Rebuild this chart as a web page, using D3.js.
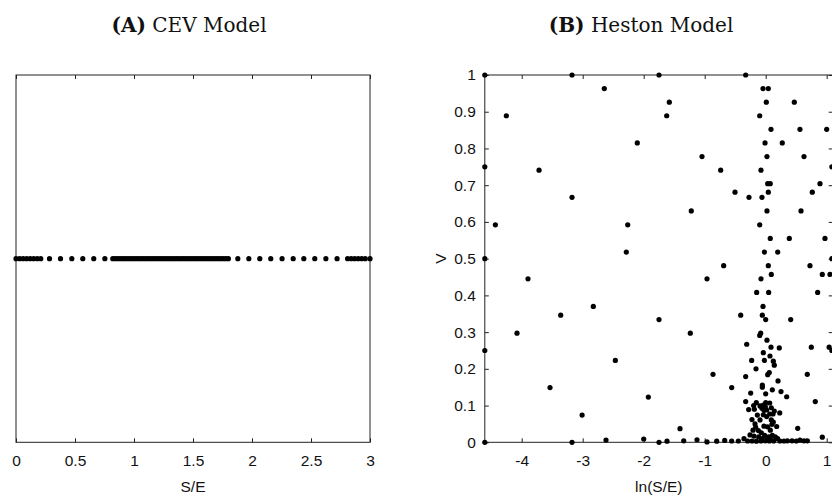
<!DOCTYPE html>
<html>
<head>
<meta charset="utf-8">
<script src="https://cdn.jsdelivr.net/npm/d3@7"></script>
<style>
  html, body { margin: 0; padding: 0; background: #fff; }
  svg { display: block; }
  .tick text { font-family: "Liberation Sans", Arial, sans-serif; font-size: 15.5px; fill: #111; }
  .axis-label { font-family: "Liberation Sans", Arial, sans-serif; font-size: 15.5px; fill: #111; }
  .title { font-family: "DejaVu Serif", serif; font-size: 20px; fill: #111; }
</style>
</head>
<body>
<svg id="chart" width="832" height="503"></svg>
<script>
// ---- Panel A: CEV model grid nodes in S/E (single row) ----
const cevSE = [
  0.00, 0.03, 0.06, 0.09, 0.12, 0.15, 0.18, 0.21,
  0.284, 0.377, 0.473, 0.566, 0.659, 0.753,
  0.82, 0.84, 0.86, 0.88, 0.90, 0.92, 0.94, 0.96, 0.98, 1.00,
  1.02, 1.04, 1.06, 1.08, 1.10, 1.12, 1.14, 1.16, 1.18, 1.20,
  1.22, 1.24, 1.26, 1.28, 1.30, 1.32, 1.34, 1.36, 1.38, 1.40,
  1.42, 1.44, 1.46, 1.48, 1.50, 1.52, 1.54, 1.56, 1.58, 1.60,
  1.62, 1.64, 1.66, 1.68, 1.70, 1.72, 1.74, 1.76, 1.78, 1.80,
  1.880, 1.973, 2.066, 2.159, 2.255, 2.349, 2.439, 2.532, 2.626, 2.721,
  2.81, 2.84, 2.87, 2.90, 2.93, 2.96, 3.00
];
const cevLevel = 0.5;
const cevTicks = [0, 0.5, 1, 1.5, 2, 2.5, 3];
const cevTickLabels = ["0", "0.5", "1", "1.5", "2", "2.5", "3"];

// ---- Panel B: Heston model nodes, ln(S/E) and variance V ----
const hestonLnSE = [
  -4.605, -3.175, -1.749, -0.328,
  -2.646, -0.044, 0.043,
  -1.58, 0.01, 0.469,
  -4.252, -1.623, -0.098,
  0.087, 0.562, 1.0,
  -2.105, -0.011, 0.272,
  -1.044, 0.021, 0.628,
  -4.605, 1.085,
  -3.716, -0.738, -0.077,
  0.033, 0.075, 0.89,
  -0.503, 0.043, 0.764,
  -3.175, -0.274, -0.061,
  -1.22, 0.021, 0.579,
  -4.432, -2.262, -0.098,
  0.075, 0.387, 0.972,
  -2.285, -0.022, 0.197,
  -4.605, 1.085,
  -0.689, 0.043, 0.726,
  -3.897, -0.962, -0.077,
  0.092, 0.928, 1.054,
  -0.148, 0.049, 0.852,
  -2.826, -0.044,
  -3.361, -0.41, -0.055,
  -1.749, 0.0, 0.41,
  -4.077, -1.236, -0.082, -0.098,
  -0.311, 0.021, 0.087, 0.223, 0.748, 1.04,
  -4.605, 1.085,
  -2.465, -0.23, -0.022, 0.07, 0.125, -0.039, 0.141,
  -0.159, 0.059, 0.033, -0.328, -0.864, 0.682,
  -3.536, -0.557, -0.055, -0.055, 0.202, 0.109,
  -0.246, 0.251, 0.0, -1.924, 0.344,
  -0.328, 0.813, -0.154, -0.197, 0.0, 0.066,
  -0.093, -0.039, -0.006, -0.061, -0.028, 0.016, 0.092, 0.141, 0.066, 0.12,
  -0.279, -0.186, 0.23, -0.225, 0.092, 0.125, 0.103, -0.175, -0.164, -0.028,
  0.032, 0.076, -0.208, -0.12, -0.071, -0.017, 0.049, 0.109, -0.192, -0.115,
  -0.061, 0.016, 0.076, 0.158, -0.093, 0.016, -0.039, -0.137, 0.18, -0.257,
  -3.01, -1.405, 0.525, 0.928,
  -4.605, -3.175, -2.618, -2.0, -1.749, -1.618, -1.344, -1.126, -0.962, -0.803,
  -0.672, -0.558, -0.449, -0.356, -0.296, -0.225, -0.153, -0.077, -0.006, 0.059,
  0.13, 0.196, 0.234, 0.3, 0.355, 0.431, 0.502, 0.562, 0.628, 0.683
];
const hestonV = [
  1.0, 1.0, 1.0, 1.0,
  0.963, 0.963, 0.963,
  0.926, 0.926, 0.926,
  0.889, 0.889, 0.889,
  0.852, 0.852, 0.852,
  0.815, 0.815, 0.815,
  0.778, 0.778, 0.778,
  0.75, 0.75,
  0.741, 0.741, 0.741,
  0.704, 0.704, 0.704,
  0.681, 0.681, 0.681,
  0.667, 0.667, 0.667,
  0.63, 0.63, 0.63,
  0.592, 0.592, 0.592,
  0.555, 0.555, 0.555,
  0.518, 0.518, 0.518,
  0.5, 0.5,
  0.481, 0.481, 0.481,
  0.445, 0.445, 0.445,
  0.457, 0.457, 0.457,
  0.408, 0.408, 0.408,
  0.370, 0.370,
  0.346, 0.346, 0.346,
  0.334, 0.334, 0.334,
  0.297, 0.297, 0.297, 0.291,
  0.267, 0.278, 0.259, 0.257, 0.259, 0.259,
  0.25, 0.25,
  0.223, 0.223, 0.223, 0.235, 0.221, 0.244, 0.21,
  0.2, 0.19, 0.184, 0.179, 0.185, 0.185,
  0.149, 0.149, 0.156, 0.150, 0.167, 0.143,
  0.134, 0.138, 0.132, 0.123, 0.124,
  0.111, 0.111, 0.108, 0.1, 0.108, 0.107,
  0.099, 0.101, 0.097, 0.093, 0.087, 0.088, 0.094, 0.085, 0.077, 0.077,
  0.089, 0.09, 0.08, 0.062, 0.061, 0.055, 0.049, 0.05, 0.041, 0.044,
  0.042, 0.033, 0.033, 0.032, 0.026, 0.019, 0.015, 0.019, 0.017, 0.015,
  0.010, 0.008, 0.009, 0.015, 0.061, 0.070, 0.075, 0.074, 0.043, 0.02,
  0.074, 0.037, 0.038, 0.014,
  0.0, 0.0, 0.006, 0.009, 0.0, 0.003, 0.004, 0.007, 0.001, 0.003,
  0.005, 0.0035, 0.0035, 0.01, 0.0035, 0.0035, 0.003, 0.0035, 0.004, 0.0035,
  0.0035, 0.01, 0.0035, 0.0035, 0.004, 0.004, 0.0035, 0.006, 0.004, 0.004
];
const hestonXTicks = [-4, -3, -2, -1, 0, 1];
const hestonXTickLabels = ["-4", "-3", "-2", "-1", "0", "1"];
const hestonYTicks = [0, 0.1, 0.2, 0.3, 0.4, 0.5, 0.6, 0.7, 0.8, 0.9, 1];
const hestonYTickLabels = ["0", "0.1", "0.2", "0.3", "0.4", "0.5", "0.6", "0.7", "0.8", "0.9", "1"];

const svg = d3.select("#chart");
const axisColor = "#222";
const dotR = 2.6;
const tickLen = 4;

// shared vertical extent of both axes boxes
const yTop = 75, yBottom = 442.3;

// ---------- Panel A ----------
const xA = d3.scaleLinear().domain([0, 3]).range([16, 370]);
const yA = d3.scaleLinear().domain([0, 1]).range([yBottom, yTop]);

const gA = svg.append("g");
gA.append("rect")
  .attr("x", xA(0)).attr("y", yTop)
  .attr("width", xA(3) - xA(0)).attr("height", yBottom - yTop)
  .attr("fill", "none").attr("stroke", axisColor).attr("stroke-width", 1);

const axA = gA.append("g")
  .attr("transform", `translate(0,${yBottom})`)
  .style("color", axisColor)
  .call(d3.axisBottom(xA).tickValues(cevTicks)
    .tickFormat((d, i) => cevTickLabels[i])
    .tickSizeInner(-tickLen).tickSizeOuter(0).tickPadding(13));
axA.select(".domain").remove();

const axAtop = gA.append("g")
  .attr("transform", `translate(0,${yTop})`)
  .style("color", axisColor)
  .call(d3.axisTop(xA).tickValues(cevTicks).tickFormat("")
    .tickSizeInner(-tickLen).tickSizeOuter(0));
axAtop.select(".domain").remove();

gA.append("g").selectAll("circle")
  .data(cevSE)
  .join("circle")
  .attr("cx", d => xA(d))
  .attr("cy", yA(cevLevel))
  .attr("r", dotR)
  .attr("fill", "#000");

gA.append("text").attr("class", "axis-label")
  .attr("x", (xA(0) + xA(3)) / 2).attr("y", 492)
  .attr("text-anchor", "middle").text("S/E");

const tA = svg.append("text").attr("class", "title")
  .attr("x", 189).attr("y", 32).attr("text-anchor", "middle");
tA.append("tspan").attr("font-weight", "bold").text("(A)");
tA.append("tspan").text(" CEV Model");

// ---------- Panel B ----------
const xB = d3.scaleLinear().domain([Math.log(0.01), Math.log(3)]).range([484.8, 832.7]);
const yB = d3.scaleLinear().domain([0, 1]).range([yBottom, yTop]);

const gB = svg.append("g");
gB.append("rect")
  .attr("x", xB.range()[0]).attr("y", yTop)
  .attr("width", xB.range()[1] - xB.range()[0]).attr("height", yBottom - yTop)
  .attr("fill", "none").attr("stroke", axisColor).attr("stroke-width", 1);

const axBx = gB.append("g")
  .attr("transform", `translate(0,${yBottom})`)
  .style("color", axisColor)
  .call(d3.axisBottom(xB).tickValues(hestonXTicks)
    .tickFormat((d, i) => hestonXTickLabels[i])
    .tickSizeInner(-tickLen).tickSizeOuter(0).tickPadding(13));
axBx.select(".domain").remove();

const axBtop = gB.append("g")
  .attr("transform", `translate(0,${yTop})`)
  .style("color", axisColor)
  .call(d3.axisTop(xB).tickValues(hestonXTicks).tickFormat("")
    .tickSizeInner(-tickLen).tickSizeOuter(0));
axBtop.select(".domain").remove();

const axBy = gB.append("g")
  .attr("transform", `translate(${xB.range()[0]},0)`)
  .style("color", axisColor)
  .call(d3.axisLeft(yB).tickValues(hestonYTicks)
    .tickFormat((d, i) => hestonYTickLabels[i])
    .tickSizeInner(-tickLen).tickSizeOuter(0).tickPadding(9));
axBy.select(".domain").remove();

const axByR = gB.append("g")
  .attr("transform", `translate(${xB.range()[1]},0)`)
  .style("color", axisColor)
  .call(d3.axisRight(yB).tickValues(hestonYTicks).tickFormat("")
    .tickSizeInner(-tickLen).tickSizeOuter(0));
axByR.select(".domain").remove();

gB.append("g").selectAll("circle")
  .data(d3.range(hestonLnSE.length))
  .join("circle")
  .attr("cx", i => xB(hestonLnSE[i]))
  .attr("cy", i => yB(hestonV[i]))
  .attr("r", dotR)
  .attr("fill", "#000");

gB.append("text").attr("class", "axis-label")
  .attr("x", (xB.range()[0] + xB.range()[1]) / 2).attr("y", 492)
  .attr("text-anchor", "middle").text("ln(S/E)");

gB.append("text").attr("class", "axis-label")
  .attr("transform", `translate(446,${yB(0.5)}) rotate(-90)`)
  .attr("text-anchor", "middle").text("V");

const tB = svg.append("text").attr("class", "title")
  .attr("x", 641).attr("y", 32).attr("text-anchor", "middle");
tB.append("tspan").attr("font-weight", "bold").text("(B)");
tB.append("tspan").text(" Heston Model");
</script>
</body>
</html>
